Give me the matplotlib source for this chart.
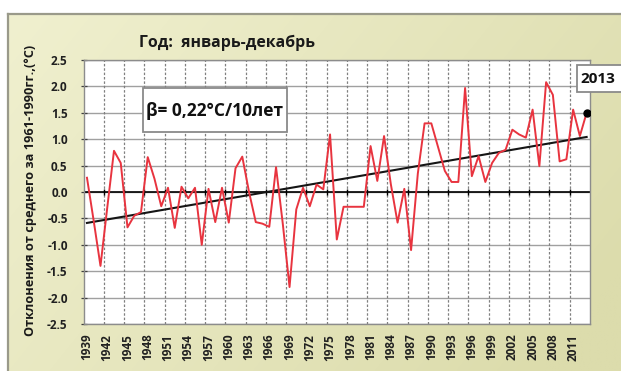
import numpy as np
import matplotlib
matplotlib.use("Agg")
import matplotlib.pyplot as plt
from matplotlib.patches import Rectangle

# Annual mean air temperature anomalies relative to 1961-1990, °C
years = list(range(1939, 2014))
anomalies = [
    0.27, -0.55, -1.40, -0.30, 0.78, 0.55, -0.67, -0.45, -0.38, 0.66,   # 1939-1948
    0.25, -0.27, 0.08, -0.68, 0.10, -0.12, 0.08, -1.00, 0.06, -0.57,    # 1949-1958
    0.08, -0.58, 0.45, 0.67, 0.00, -0.57, -0.60, -0.66, 0.47, -0.60,    # 1959-1968
    -1.80, -0.33, 0.08, -0.27, 0.14, 0.05, 1.09, -0.90, -0.28, -0.28,   # 1969-1978
    -0.28, -0.28, 0.87, 0.21, 1.06, 0.15, -0.58, 0.06, -1.10, 0.35,     # 1979-1988
    1.30, 1.30, 0.85, 0.40, 0.19, 0.19, 1.97, 0.30, 0.68, 0.19,         # 1989-1998
    0.55, 0.74, 0.80, 1.18, 1.09, 1.03, 1.56, 0.49, 2.08, 1.84,         # 1999-2008
    0.58, 0.62, 1.56, 1.06, 1.50,                                       # 2009-2013
]
trend_per_decade = 0.22          # °C per 10 years
y_ticks = [-2.5, -2.0, -1.5, -1.0, -0.5, 0.0, 0.5, 1.0, 1.5, 2.0, 2.5]
label_step = 3                   # every third year is labelled

title = "Год:  январь-декабрь"
y_title = "Отклонения от среднего за 1961-1990гг.,(°С)"
trend_text = "β= 0,22°C/10лет"
last_year_text = "2013"

FONT = ["Open Sans", "DejaVu Sans"]
plt.rcParams["font.family"] = FONT

W, H = 621, 371
fig = plt.figure(figsize=(W / 100, H / 100), dpi=100)
fig.patch.set_facecolor("white")

# ---- chart background panel (pixel coordinate helper axes) ----
bg = fig.add_axes([0, 0, 1, 1], zorder=-10)
bg.set_xlim(0, W)
bg.set_ylim(H, 0)
bg.axis("off")
gx = np.linspace(0, 1, 200)
gy = np.linspace(0, 1, 120)
GX, GY = np.meshgrid(gx, gy)
t = np.clip(0.75 * GX + 0.35 * GY, 0, 1)[..., None]
c0 = np.array([240, 240, 207]) / 255
c1 = np.array([220, 220, 172]) / 255
grad = c0 * (1 - t) + c1 * t
bg.imshow(grad, extent=(8, W, H, 14), aspect="auto", interpolation="bilinear")
bg.plot([8, 8], [H, 14], color="#9a9a8a", lw=1.6)
bg.plot([8, W], [14, 14], color="#9a9a8a", lw=1.6)

# ---- plot area ----
left, right, top, bottom = 83.6, 590, 60, 324
ax = fig.add_axes([left / W, 1 - bottom / H, (right - left) / W, (bottom - top) / H])
ax.set_facecolor("white")

x = np.array(years, dtype=float)
y = np.array(anomalies)

ax.set_xlim(x[0] - 0.5, x[-1] + 0.5)
ax.set_ylim(y_ticks[0], y_ticks[-1])

# gridlines: horizontal solid, vertical dotted at category boundaries
for v in y_ticks:
    ax.axhline(v, color="#a0a0a0", lw=1.0, zorder=1)
boundaries = np.arange(x[0] - 0.5 + label_step, x[-1] + 0.5, label_step)
for b in boundaries:
    ax.axvline(b, color="#808080", lw=0.9, ls=(0, (2.0, 1.5)), zorder=1)

# category axis crossing at zero
ax.axhline(0, color="black", lw=1.2, zorder=2)
ax.plot(boundaries, np.zeros_like(boundaries), ls="none", marker="|",
        ms=5, mew=1.0, color="black", zorder=2)

# linear trend with the stated slope, through the series mean
slope = trend_per_decade / 10.0
intercept = y.mean() - slope * x.mean()
ax.plot(x, intercept + slope * x, color="#151515", lw=1.5, zorder=3)

# anomaly series
ax.plot(x, y, color="#e8343f", lw=1.4, zorder=4)
ax.plot(x[-1], y[-1], "o", color="black", ms=5, zorder=5)

ax.set_yticks(y_ticks)
ax.set_yticklabels([f"{v:.1f}" for v in y_ticks], fontsize=8.5,
                   fontweight="bold", color="#202020")
ax.set_xticks(x[::label_step])
ax.set_xticklabels([str(int(v)) for v in x[::label_step]], rotation=90,
                   fontsize=8.5, fontweight="bold", color="#202020")
ax.tick_params(axis="x", length=0, pad=7)
ax.tick_params(axis="y", direction="inout", length=5, width=0.9,
               color="#404040", pad=9)
for s in ax.spines.values():
    s.set_color("#8c8c8c")
    s.set_linewidth(1.0)

# ---- titles and annotation boxes ----
over = fig.add_axes([0, 0, 1, 1], zorder=10)
over.set_xlim(0, W)
over.set_ylim(H, 0)
over.axis("off")
over.patch.set_alpha(0)

over.text(227, 43, title, ha="center", va="center", fontsize=11.4,
          fontweight="bold", color="#1a1a1a")
over.text(31, 190, y_title, ha="center", va="center", rotation=90,
          fontsize=9.2, fontweight="bold", color="#1a1a1a")

over.add_patch(Rectangle((143, 88), 144, 44, facecolor="white",
                         edgecolor="#8a8a8a", lw=1.3))
over.text(146, 111, trend_text, ha="left", va="center", fontsize=12.5,
          fontweight="bold", color="#111111")

over.add_patch(Rectangle((577, 65), 60, 27, facecolor="white",
                         edgecolor="#8a8a8a", lw=1.3, clip_on=False))
over.text(580, 79, last_year_text, ha="left", va="center", fontsize=11,
          fontweight="bold", color="#111111")

fig.savefig("out.png", dpi=100)
